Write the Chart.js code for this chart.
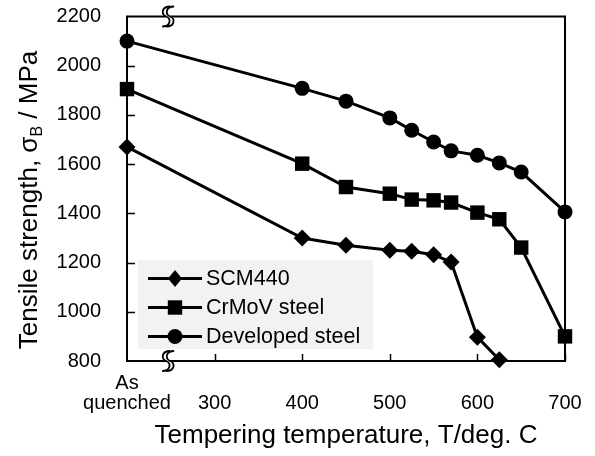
<!DOCTYPE html>
<html>
<head>
<meta charset="utf-8">
<script src="https://cdn.jsdelivr.net/npm/chart.js@4/dist/chart.umd.min.js"></script>
<style>
  html, body { margin: 0; padding: 0; background: #fff; }
  #wrap { width: 595px; height: 456px; }
</style>
</head>
<body>
<div id="wrap"><canvas id="chart" width="595" height="456"></canvas></div>
<script>
// "As quenched" is placed at x = 200 on the temperature axis
const AS_QUENCHED = 200;
const BREAK_AT = 247;

const scmTemps = [200, 400, 450, 500, 525, 550, 570, 600, 625];
const scmStrength = [1670, 1300, 1270, 1250, 1246, 1232, 1202, 897, 805];

const crmovTemps = [200, 400, 450, 500, 525, 550, 570, 600, 625, 650, 700];
const crmovStrength = [1905, 1602, 1507, 1480, 1456, 1453, 1444, 1403, 1376, 1261, 900];

const devTemps = [200, 400, 450, 500, 525, 550, 570, 600, 625, 650, 700];
const devStrength = [2100, 1908, 1856, 1788, 1738, 1690, 1654, 1636, 1605, 1568, 1406];

const seriesNames = ['SCM440', 'CrMoV steel', 'Developed steel'];
const xTickValues = [300, 400, 500, 600, 700];
const yTickValues = [1000, 1200, 1400, 1600, 1800, 2000];

const FONT = "'Liberation Sans', Arial, sans-serif";

function toPoints(xs, ys) {
  return xs.map((x, i) => ({x: x, y: ys[i]}));
}

function drawMarker(ctx, style, x, y) {
  ctx.beginPath();
  if (style === 'circle') {
    ctx.arc(x, y, 7.5, 0, Math.PI * 2);
  } else if (style === 'rect') {
    ctx.rect(x - 7.2, y - 7.2, 14.4, 14.4);
  } else {
    ctx.moveTo(x, y - 8.5);
    ctx.lineTo(x + 7, y);
    ctx.lineTo(x, y + 8.5);
    ctx.lineTo(x - 7, y);
    ctx.closePath();
  }
  ctx.fillStyle = '#000';
  ctx.fill();
}

function sPath(ctx, cx, cy) {
  ctx.moveTo(cx + 4, cy - 10);
  ctx.bezierCurveTo(cx - 5, cy - 10, cx - 5, cy - 2, cx, cy);
  ctx.bezierCurveTo(cx + 5, cy + 2, cx + 5, cy + 10, cx - 4, cy + 10);
}

function drawBreak(ctx, cx, cy) {
  ctx.save();
  // white gap between the two strokes
  ctx.fillStyle = '#fff';
  ctx.fillRect(cx - 2, cy - 3, 4, 6);
  ctx.strokeStyle = '#000';
  ctx.lineWidth = 1.8;
  for (const off of [-2, 2]) {
    ctx.beginPath();
    sPath(ctx, cx + off, cy);
    ctx.stroke();
  }
  ctx.restore();
}

const framePlugin = {
  id: 'frame',
  beforeDatasetsDraw(chart) {
    const {ctx, chartArea: a, scales} = chart;
    ctx.save();
    ctx.strokeStyle = '#000';
    ctx.lineWidth = 2;
    ctx.strokeRect(a.left, a.top, a.right - a.left, a.bottom - a.top);
    ctx.lineWidth = 1.5;
    ctx.beginPath();
    for (const v of yTickValues) {
      const y = Math.round(scales.y.getPixelForValue(v)) + 0.5;
      ctx.moveTo(a.left, y);
      ctx.lineTo(a.left + 8, y);
    }
    for (const v of xTickValues) {
      const x = Math.round(scales.x.getPixelForValue(v)) + 0.5;
      ctx.moveTo(x, a.bottom);
      ctx.lineTo(x, a.bottom - 7);
    }
    ctx.stroke();
    ctx.restore();
  },
  afterDraw(chart) {
    const {ctx, chartArea: a, scales} = chart;
    const bx = scales.x.getPixelForValue(BREAK_AT);
    drawBreak(ctx, bx, a.top);
    drawBreak(ctx, bx, a.bottom);

    // legend box
    ctx.save();
    ctx.fillStyle = '#f2f2f2';
    ctx.fillRect(138, 260, 235, 89);
    const styles = ['rectRot', 'rect', 'circle'];
    ctx.font = '21.5px ' + FONT;
    ctx.textBaseline = 'middle';
    ctx.textAlign = 'left';
    for (let i = 0; i < seriesNames.length; i++) {
      const y = 278.5 + i * 29;
      ctx.strokeStyle = '#000';
      ctx.lineWidth = 3;
      ctx.beginPath();
      ctx.moveTo(148, y);
      ctx.lineTo(202, y);
      ctx.stroke();
      drawMarker(ctx, styles[i], 175, y);
      ctx.fillStyle = '#000';
      ctx.fillText(seriesNames[i], 206, y + 1);
    }

    // y axis title with subscript
    ctx.translate(37, 200);
    ctx.rotate(-Math.PI / 2);
    const big = '26px ' + FONT;
    const small = '16px ' + FONT;
    const p1 = 'Tensile strength, \u03c3';
    const p2 = 'B';
    const p3 = ' / MPa';
    ctx.font = big;
    const w1 = ctx.measureText(p1).width;
    const w3 = ctx.measureText(p3).width;
    ctx.font = small;
    const w2 = ctx.measureText(p2).width;
    let x = -(w1 + w2 + w3) / 2;
    ctx.textBaseline = 'alphabetic';
    ctx.font = big;
    ctx.fillText(p1, x, 0);
    x += w1;
    ctx.font = small;
    ctx.fillText(p2, x, 5);
    x += w2;
    ctx.font = big;
    ctx.fillText(p3, x, 0);
    ctx.restore();
  }
};

const lineStyle = {
  borderColor: '#000',
  backgroundColor: '#000',
  borderWidth: 3,
  pointBorderWidth: 0,
  pointBackgroundColor: '#000',
  tension: 0,
  clip: false
};

new Chart(document.getElementById('chart'), {
  type: 'line',
  data: {
    datasets: [
      Object.assign({label: seriesNames[0], data: toPoints(scmTemps, scmStrength),
        pointStyle: 'rectRot', pointRadius: 8.5}, lineStyle),
      Object.assign({label: seriesNames[1], data: toPoints(crmovTemps, crmovStrength),
        pointStyle: 'rect', pointRadius: 10.2}, lineStyle),
      Object.assign({label: seriesNames[2], data: toPoints(devTemps, devStrength),
        pointStyle: 'circle', pointRadius: 7.5}, lineStyle)
    ]
  },
  options: {
    responsive: false,
    animation: false,
    layout: {autoPadding: false, padding: {left: 0, right: 30, top: 16.5, bottom: 0}},
    plugins: {legend: {display: false}, tooltip: {enabled: false}},
    scales: {
      x: {
        type: 'linear',
        min: AS_QUENCHED,
        max: 700,
        afterBuildTicks(scale) {
          scale.ticks = [AS_QUENCHED].concat(xTickValues).map(v => ({value: v}));
        },
        afterFit(scale) { scale.height = 95; scale.paddingLeft = 0; scale.paddingRight = 0; },
        grid: {display: false, drawTicks: false},
        border: {display: false},
        ticks: {
          color: '#000',
          padding: 12,
          maxRotation: 0,
          autoSkip: false,
          font: {family: FONT, size: 20, lineHeight: 1.0},
          callback: v => v === AS_QUENCHED ? ['As', 'quenched'] : ['', String(v)]
        },
        title: {
          display: true,
          text: 'Tempering temperature, T/deg. C',
          color: '#000',
          font: {family: FONT, size: 26},
          padding: {top: 4, bottom: 5}
        }
      },
      y: {
        min: 800,
        max: 2200,
        afterFit(scale) { scale.width = 127; scale.paddingTop = 0; scale.paddingBottom = 0; },
        grid: {display: false, drawTicks: false},
        border: {display: false},
        ticks: {
          stepSize: 200,
          color: '#000',
          padding: 26,
          font: {family: FONT, size: 20},
          callback: v => String(v)
        }
      }
    }
  },
  plugins: [framePlugin]
});
</script>
</body>
</html>
